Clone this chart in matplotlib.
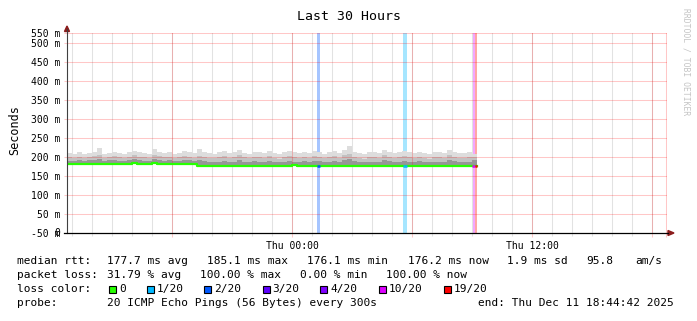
import numpy as np
import matplotlib
matplotlib.use("Agg")
import matplotlib.pyplot as plt
from matplotlib.patches import Rectangle, Polygon

# ---------------- data ----------------
title = "Last 30 Hours"
ylabel = "Seconds"
bin_hours = 0.25                     # 15-minute bins, hours since start (Wed 12:44:42)
median_ms = [181, 181, 181, 181, 182.5, 181, 181, 181, 181, 181,
             181, 181, 181, 185, 181, 181, 181, 183, 181, 180.5,
             180.5, 180.5, 180.5, 180.5, 180.5, 180.5, 177, 176.5, 176.5, 176.5,
             176.5, 176.5, 176.5, 176.5, 176.5, 176.5, 176.5, 176.5, 176.5, 176.5,
             176.5, 176.5, 176.5, 176.5, 176.5, 179.5, 176.5, 176.5, 176.5, 176.5,
             176.5, 176.5, 176.5, 176.5, 176.5, 176.5, 176.5, 176.5, 176.5, 176.5,
             176.5, 176.5, 176.5, 176.5, 176.5, 176.5, 176.5, 176.5, 176.5, 176.5,
             176.5, 176.5, 176.5, 176.5, 176.5, 176.5, 176.5, 176.5, 176.5, 176.5,
             176.5, 176.2]
smoke_max = [210, 207, 212, 209, 211, 213, 223, 209, 211, 214,
             210, 208, 213, 216, 212, 211, 209, 220, 214, 210,
             213, 209, 211, 215, 212, 210, 220, 214, 211, 209,
             212, 216, 210, 213, 218, 211, 209, 214, 212, 210,
             215, 211, 209, 213, 217, 212, 210, 214, 211, 216,
             213, 209, 212, 215, 210, 218, 230, 214, 211, 209,
             213, 212, 210, 219, 214, 211, 213, 216, 212, 210,
             214, 211, 209, 213, 212, 210, 219, 214, 211, 210,
             212, 209]
smoke_p90 = [199, 197, 201, 198, 200, 202, 205, 198, 200, 203,
             199, 197, 201, 204, 200, 199, 198, 206, 202, 199,
             200, 197, 199, 202, 200, 198, 203, 201, 198, 197,
             199, 202, 197, 200, 204, 199, 197, 201, 199, 197,
             202, 198, 196, 200, 203, 199, 197, 201, 198, 203,
             200, 197, 199, 202, 197, 204, 208, 201, 198, 196,
             200, 199, 197, 204, 201, 198, 200, 203, 199, 197,
             201, 198, 196, 200, 199, 197, 204, 201, 198, 197,
             199, 200]
smoke_p75 = [190, 189, 192, 190, 191, 193, 194, 190, 191, 193,
             190, 189, 192, 194, 191, 190, 189, 195, 192, 190,
             191, 189, 190, 192, 191, 190, 191, 189, 187, 186,
             188, 190, 186, 188, 191, 187, 186, 189, 188, 186,
             190, 187, 186, 188, 190, 188, 186, 189, 187, 190,
             189, 186, 188, 190, 186, 191, 194, 189, 187, 186,
             188, 188, 186, 191, 189, 187, 188, 190, 188, 186,
             189, 187, 186, 188, 188, 186, 191, 189, 187, 186,
             188, 192]
# loss events: start hour, end hour, loss level
loss_start = [12.48, 16.80, 20.26, 20.40]
loss_end = [12.66, 17.00, 20.40, 20.52]
loss_level = ["2/20", "1/20", "10/20", "19/20"]

loss_labels = ["0", "1/20", "2/20", "3/20", "4/20", "10/20", "19/20"]
loss_colors = ["#26ff00", "#00b8ff", "#0059ff", "#5e00ff", "#7e00ff", "#dd00ff", "#ff0000"]

ytick_vals = [0, 50, 100, 150, 200, 250, 300, 350, 400, 450, 500, 526.3]
ytick_labels = ["-50 m", "50 m", "100 m", "150 m", "200 m", "250 m", "300 m",
                "350 m", "400 m", "450 m", "500 m", "550 m"]
major_hours = [5.255, 11.255, 17.255, 23.255, 29.255, 29.95]
major_labels = ["", "Thu 00:00", "", "Thu 12:00", "", ""]
minor_hours = [0.255 + h for h in range(30)]

stats_rtt = ["median rtt:", "177.7 ms avg", "185.1 ms max", "176.1 ms min",
             "176.2 ms now", "1.9 ms sd", "95.8", "am/s"]
stats_loss = ["packet loss:", "31.79 % avg", "100.00 % max", "0.00 % min", "100.00 % now"]
probe_text = ["probe:", "20 ICMP Echo Pings (56 Bytes) every 300s",
              "end: Thu Dec 11 18:44:42 2025"]

# ---------------- figure ----------------
W, H = 697, 321
plt.rcParams["font.family"] = ["DejaVu Sans Mono", "DejaVu Sans"]
fig = plt.figure(figsize=(W / 100, H / 100), dpi=100)
fig.patch.set_facecolor("white")


def fx(x):
    return x / W


def fy(y):
    return 1 - y / H


ax = fig.add_axes([fx(67), fy(233), 600 / W, 200 / H])
ax.set_xlim(0, 30)
ax.set_ylim(0, 526.3)
for s in ax.spines.values():
    s.set_visible(False)

n = len(median_ms)
t = np.arange(n + 1) * bin_hours
med = np.array(median_ms + [median_ms[-1]], float)
smax = np.array(smoke_max + [smoke_max[-1]], float)
s90 = np.array(smoke_p90 + [smoke_p90[-1]], float)
s75 = np.array(smoke_p75 + [smoke_p75[-1]], float)

# loss backgrounds
col_of = dict(zip(loss_labels, loss_colors))
for a, b, lv in zip(loss_start, loss_end, loss_level):
    ax.axvspan(a, b, color=col_of[lv], alpha=0.35, lw=0, zorder=1)

# smoke
ax.fill_between(t, s90, smax, step="post", color="#dddddd", lw=0, zorder=2)
ax.fill_between(t, s75, s90, step="post", color="#c2c2c2", lw=0, zorder=2)
ax.fill_between(t, med, s75, step="post", color="#969696", lw=0, zorder=2)

# median line
ax.step(t, med, where="post", color="#26ff00", lw=1.6, zorder=4)
for a, b, lv in zip(loss_start, loss_end, loss_level):
    idx = min(int(a / bin_hours), n - 1)
    ax.plot([a, b], [median_ms[idx]] * 2, color=col_of[lv], lw=1.8, zorder=5,
            solid_capstyle="butt")

# grid
GL = 0.75
RED = (1, 0, 0, 0.22)
GREY = "#e2e2e2"
for h in minor_hours:
    ax.axvline(h, color=GREY, lw=GL, zorder=1.5)
for h in major_hours:
    ax.axvline(h, color=RED, lw=GL, zorder=3)
for v in ytick_vals[1:]:
    ax.axhline(v, color=RED, lw=GL, zorder=3)

ax.set_yticks(ytick_vals)
ax.set_yticklabels(ytick_labels, fontsize=7)
ax.set_xticks(major_hours)
ax.set_xticklabels(major_labels, fontsize=7)
ax.set_xticks(minor_hours, minor=True)
ax.tick_params(axis="y", length=2, width=GL, color=RED, pad=3)
ax.tick_params(axis="x", which="major", length=3, width=GL, color=RED, pad=3)
ax.tick_params(axis="x", which="minor", length=2, width=GL, color=GREY)

# zero overlay label
fig.text(fx(60.5), fy(233), "0", fontsize=7, ha="right", va="center")

# axes lines and arrows
fig.add_artist(plt.Line2D([fx(67), fx(67)], [fy(233), fy(29)], color="#404040", lw=0.8))
fig.add_artist(plt.Line2D([fx(64), fx(668)], [fy(233), fy(233)], color="black", lw=0.9))
fig.add_artist(Polygon([[fx(64.5), fy(31.5)], [fx(69.5), fy(31.5)], [fx(67), fy(26)]],
                       closed=True, color="#8b1c1c", transform=fig.transFigure))
fig.add_artist(Polygon([[fx(668), fy(230.5)], [fx(668), fy(235.5)], [fx(674), fy(233)]],
                       closed=True, color="#8b1c1c", transform=fig.transFigure))

# titles
fig.text(fx(349), fy(16), title, fontsize=9.5, ha="center", va="center")
fig.text(fx(15), fy(130), ylabel, fontsize=8.5, rotation=90, ha="center", va="center")
fig.text(fx(686), fy(62), "RRDTOOL / TOBI OETIKER", fontsize=5.8, rotation=270,
         ha="center", va="center", color="#c4c4c4")

# legend / stats
fs = 8
xs1 = [16.7, 107.3, 206.7, 307.3, 407.7, 506.7, 586, 635.7]
for x, s in zip(xs1, stats_rtt):
    fig.text(fx(x), fy(261), s, fontsize=fs, ha="left", va="center")
xs2 = [16.7, 107.3, 200, 300, 385.7]
for x, s in zip(xs2, stats_loss):
    fig.text(fx(x), fy(275), s, fontsize=fs, ha="left", va="center")
fig.text(fx(16.7), fy(289), "loss color:", fontsize=fs, ha="left", va="center")
box_x = [109, 146.7, 204, 262.7, 320, 379, 444]
for x, lab, c in zip(box_x, loss_labels, loss_colors):
    fig.add_artist(Rectangle((fx(x), fy(292.5)), 7 / W, 7 / H, transform=fig.transFigure,
                             facecolor=c, edgecolor="black", lw=0.8))
    fig.text(fx(x + 10), fy(289), lab, fontsize=fs, ha="left", va="center")
xs4 = [16.7, 107.3, 478.3]
for x, s in zip(xs4, probe_text):
    fig.text(fx(x), fy(303), s, fontsize=fs, ha="left", va="center")

fig.savefig("out.png", dpi=100, facecolor="white")
